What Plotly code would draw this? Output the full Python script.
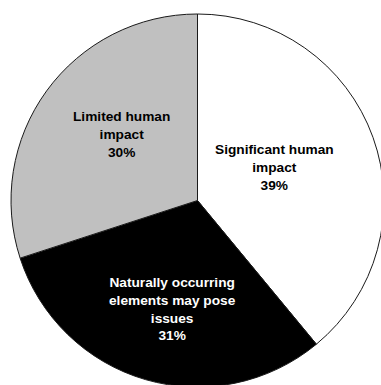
import plotly.graph_objects as go

# Share of sites by source of impact
labels = [
    "Significant human<br>impact",
    "Naturally occurring<br>elements may pose<br>issues",
    "Limited human<br>impact",
]
values = [39, 31, 30]
slice_colors = ["#FFFFFF", "#000000", "#C0C0C0"]
text_colors = ["#000000", "#FFFFFF", "#000000"]
# label block centres, in pixels from the top-left of the figure
label_px = [(274.5, 167), (172, 308.5), (121, 135)]

W, H = 384, 387
FONT = "Arial, Liberation Sans, sans-serif"

fig = go.Figure(
    go.Pie(
        labels=labels,
        values=values,
        sort=False,
        direction="clockwise",
        rotation=0,
        marker=dict(colors=slice_colors, line=dict(color="#1a1a1a", width=1)),
        textinfo="none",
        hoverinfo="none",
        showlegend=False,
        domain=dict(x=[11 / W, 1], y=[0, 1 - 14 / H]),
    )
)

total = sum(values)
for lab, val, col, (px, py) in zip(labels, values, text_colors, label_px):
    fig.add_annotation(
        x=px / W,
        y=1 - py / H,
        xref="paper",
        yref="paper",
        xanchor="center",
        yanchor="middle",
        align="center",
        showarrow=False,
        text=f"{lab}<br>{round(100 * val / total)}%",
        font=dict(family=FONT, size=13.7, color=col, weight="bold"),
    )

fig.update_layout(
    width=W,
    height=H,
    margin=dict(l=0, r=0, t=0, b=0),
    paper_bgcolor="white",
    plot_bgcolor="white",
)

fig.write_html(
    "out.html",
    post_script="document.documentElement.style.overflow='hidden';"
                "document.body.style.overflow='hidden';document.body.style.margin='0';",
)
